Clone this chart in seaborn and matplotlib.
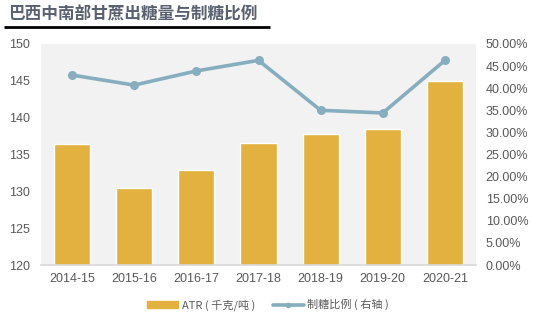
import matplotlib
matplotlib.use("Agg")
import matplotlib.pyplot as plt
import seaborn as sns
import pandas as pd
from matplotlib.ticker import FuncFormatter
from matplotlib.lines import Line2D
from matplotlib.patches import Patch

seasons = ["2014-15", "2015-16", "2016-17", "2017-18", "2018-19", "2019-20", "2020-21"]
atr = [136.45, 130.5, 132.9, 136.6, 137.8, 138.5, 145.0]
ratio = [42.97, 40.7, 43.9, 46.3, 35.0, 34.4, 46.3]

sns.set_theme(style="white")
plt.rcParams['font.family'] = ['Noto Sans CJK SC', 'DejaVu Sans']

bar_color = "#E3B13F"
line_color = "#86AEBF"
text_color = "#595959"

df = pd.DataFrame({"season": seasons, "atr": atr, "ratio": ratio})

fig = plt.figure(figsize=(5.35, 3.23), dpi=100)
ax = fig.add_axes([41/535, 58/323, 435/535, 221/323])
ax.set_facecolor("#F2F2F2")

sns.barplot(data=df, x="season", y="atr", color=bar_color, width=0.58,
            saturation=1, ax=ax)
ax.set_ylim(120, 150)
ax.set_yticks(range(120, 151, 5))
ax.set_xlim(-0.5, 6.5)
ax.set_xlabel("")
ax.set_ylabel("")

ax2 = ax.twinx()
sns.lineplot(x=list(range(len(seasons))), y=df["ratio"], color=line_color, lw=2.6,
             marker="o", markersize=6.5, markeredgewidth=0, ax=ax2, sort=False)
ax2.set_ylim(0, 50)
ax2.set_yticks(range(0, 51, 5))
ax2.yaxis.set_major_formatter(FuncFormatter(lambda v, p: f"{v:.2f}%"))
ax2.set_ylabel("")
ax.set_xlim(-0.5, 6.5)
ax2.set_xlim(-0.5, 6.5)

for a in (ax, ax2):
    for s in a.spines.values():
        s.set_visible(False)
    a.tick_params(length=0, labelsize=9, colors=text_color)
ax.spines["bottom"].set_visible(True)
ax.spines["bottom"].set_color("#D9D9D9")
ax.tick_params(axis="y", pad=8)
ax2.tick_params(axis="y", pad=7)
ax.tick_params(axis="x", pad=6)
for lbl in ax.get_yticklabels() + ax2.get_yticklabels() + ax.get_xticklabels():
    lbl.set_fontfamily(['Liberation Sans', 'DejaVu Sans'])

fig.text(8/535, 1 - 14/323, "巴西中南部甘蔗出糖量与制糖比例", fontsize=12,
         fontweight="bold", color="#5A6170", ha="left", va="center")
fig.add_artist(Line2D([4/535, 270/535], [1 - 27/323, 1 - 27/323],
                      color="black", lw=2, solid_capstyle="butt",
                      transform=fig.transFigure))

handles = [Patch(color=bar_color),
           Line2D([0], [0], color=line_color, lw=2.6, marker="o", markersize=4,
                  markeredgewidth=0)]
labels = ["ATR ( 千克/吨 )", "制糖比例 ( 右轴 )"]
fig.legend(handles, labels, loc="center", bbox_to_anchor=(268/535, 1 - 305/323),
           ncol=2, frameon=False, fontsize=8, labelcolor=text_color,
           handlelength=2.8, handleheight=0.5, columnspacing=1.6, handletextpad=0.3)

fig.savefig("out.png", dpi=100)
